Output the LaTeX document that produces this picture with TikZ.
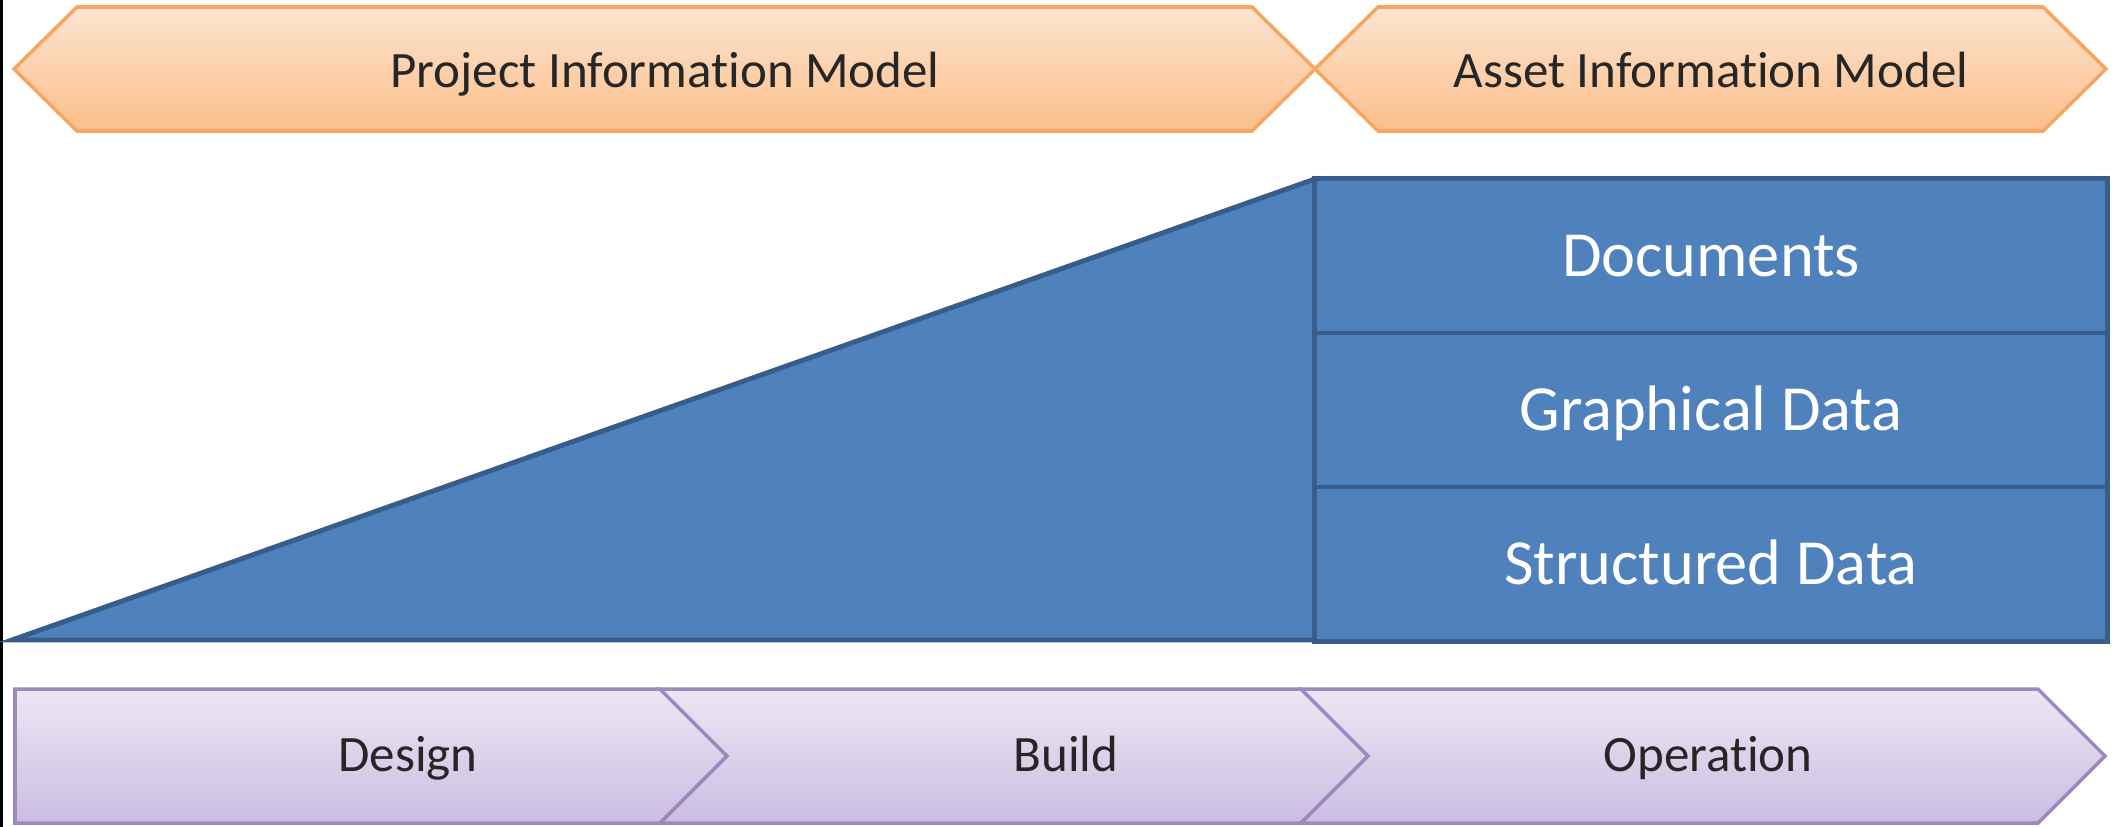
\documentclass[tikz,border=0pt]{standalone}
\usepackage{fontspec}
\setmainfont{Carlito}[Ligatures=NoCommon]
\definecolor{orangetop}{HTML}{FDE4D0}
\definecolor{orangebot}{HTML}{FBBE8A}
\definecolor{orangeline}{HTML}{F7A662}
\definecolor{purpletop}{HTML}{ECE7F3}
\definecolor{purplebot}{HTML}{CBBDE2}
\definecolor{purpleline}{HTML}{9D88C0}
\definecolor{bluefill}{HTML}{4F81BD}
\definecolor{blueline}{HTML}{385D8A}
\definecolor{labelgray}{HTML}{262626}
\tikzset{
  modelshape/.style={top color=orangetop, bottom color=orangebot, draw=orangeline, line width=1pt},
  phaseshape/.style={top color=purpletop, bottom color=purplebot, draw=purpleline, line width=1pt},
  blueshape/.style={fill=bluefill, draw=blueline, line width=1.4pt},
  bandlabel/.style={text=labelgray, font=\fontsize{14.5}{17}\selectfont, text height=0.32cm, text depth=0pt, inner sep=0pt},
  rowbox/.style={blueshape, minimum width=7.92cm, minimum height=1.54cm, inner sep=0pt, text=white, font=\fontsize{18.3}{22}\selectfont, text height=0.405cm, text depth=0pt}
}
\begin{document}
\begin{tikzpicture}[x=0.01cm, y=-0.01cm]
\useasboundingbox (0,0) rectangle (2114,827);
\fill[black] (0,0) rectangle (3,827);
\path[modelshape] (14,69) -- (77,7) -- (1252,7) -- (1315,69) -- (1252,131) -- (77,131) -- cycle;
\path[modelshape] (1315,69) -- (1378,7) -- (2043,7) -- (2106,69) -- (2043,131) -- (1378,131) -- cycle;
\node[bandlabel] (pim) at (665,71) {Project Information Model};
\node[bandlabel] (aim) at (1711,71) {Asset Information Model};
\draw[blueshape] (12,640) -- (1315,179) -- (1315,640) -- cycle;
\foreach \y/\n/\t in {256/docs/Documents,410/graph/Graphical Data,564/struct/Structured Data} {
  \node[rowbox] (\n) at (1711,\y) {\t};
}
\path[phaseshape] (15,689) -- (660,689) -- (727,756) -- (660,823) -- (15,823) -- cycle;
\foreach \a/\b in {660/1301,1301/2038} {
  \path[phaseshape] (\a,689) -- (\b,689) -- (\b+67,756) -- (\b,823) -- (\a,823) -- (\a+67,756) -- cycle;
}
\foreach \x/\n/\t in {408/design/Design,1066/build/Build,1708/operation/Operation} {
  \node[bandlabel] (\n) at (\x,755) {\t};
}
\end{tikzpicture}
\end{document}
